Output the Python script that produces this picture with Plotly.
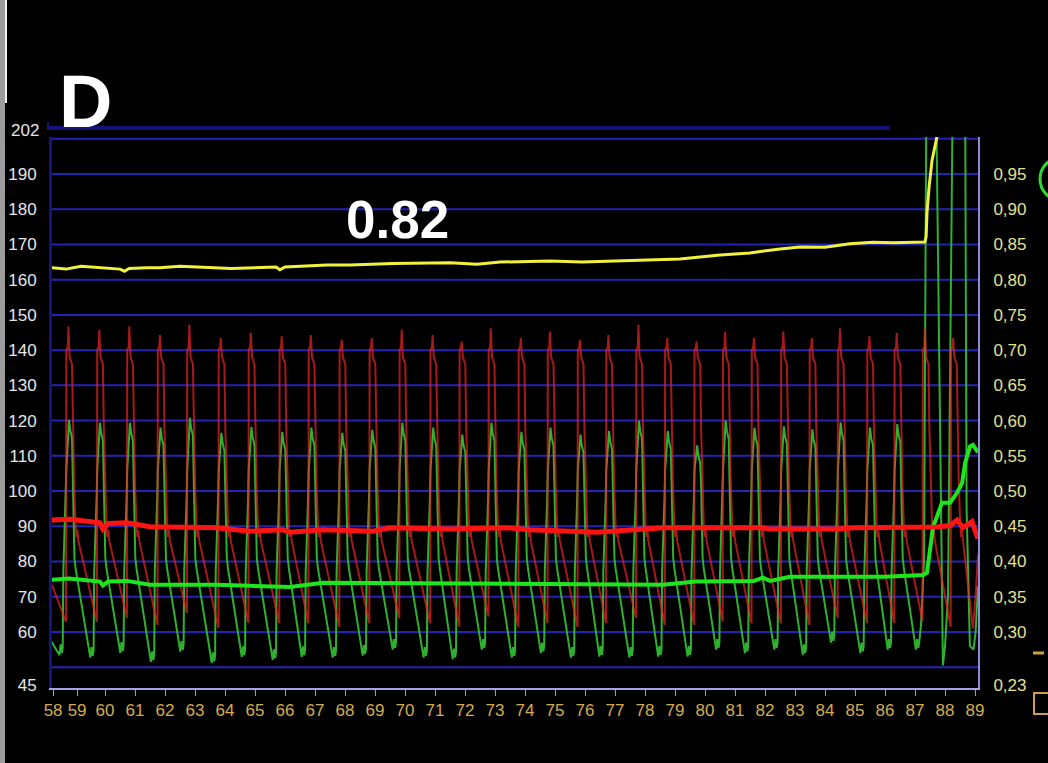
import plotly.graph_objects as go

# ---------------- data ----------------
# x axis (seconds) tick labels
x_tick_pos = [58.27, 59.07, 60, 61, 62, 63, 64, 65, 66, 67, 68, 69, 70, 71, 72, 73, 74,
              75, 76, 77, 78, 79, 80, 81, 82, 83, 84, 85, 86, 87, 88, 89]
x_tick_text = ["58", "59", "60", "61", "62", "63", "64", "65", "66", "67", "68", "69", "70",
               "71", "72", "73", "74", "75", "76", "77", "78", "79", "80", "81", "82", "83",
               "84", "85", "86", "87", "88", "89"]
left_tick_vals = [45, 60, 70, 80, 90, 100, 110, 120, 130, 140, 150, 160, 170, 180, 190]
right_tick_vals = [0.2246, 0.30, 0.35, 0.40, 0.45, 0.50, 0.55, 0.60, 0.65, 0.70, 0.75,
                   0.80, 0.85, 0.90, 0.95]
right_tick_text = ["0,23", "0,30", "0,35", "0,40", "0,45", "0,50", "0,55", "0,60", "0,65",
                   "0,70", "0,75", "0,80", "0,85", "0,90", "0,95"]
grid_levels = [50, 60, 70, 80, 90, 100, 110, 120, 130, 140, 150, 160, 170, 180, 190, 200]

# beat-by-beat values of the thin red (arterial) waveform
beat_times = [58.78, 59.81, 60.81, 61.83, 62.81, 63.86, 64.86, 65.89, 66.86, 67.89, 68.89,
              69.89, 70.92, 71.89, 72.86, 73.86, 74.83, 75.83, 76.78, 77.78, 78.74, 79.72,
              80.67, 81.63, 82.61, 83.56, 84.50, 85.48, 86.39, 87.33, 88.27]
red_peaks = [146.7, 145.8, 146.7, 144.3, 147.2, 143.5, 144.9, 143.9, 144.3, 142.9, 143.4,
             145.8, 144.3, 142.4, 146.2, 143.4, 145.3, 142.9, 144.3, 147.2, 143.4, 142.4,
             145.3, 143.4, 145.3, 143.4, 146.2, 143.9, 144.9, 146.2, 143.4]
red_troughs = [62.9, 62.9, 64.0, 62.0, 65.4, 61.2, 62.6, 62.5, 62.5, 61.5, 62.5, 63.9, 62.5,
               61.5, 64.4, 61.5, 62.5, 61.5, 62.5, 64.0, 62.0, 62.0, 63.0, 62.5, 62.5, 62.0,
               64.0, 62.5, 62.5, 63.0, 61.5]
# typical red beat contour (offset from the systolic peak, level)
red_up_dt = [-0.07, -0.02]
red_up_v = [140, 141]
red_down_dt = [0.04, 0.12, 0.15, 0.19, 0.24, 0.27, 0.30, 0.33]
red_down_v = [138, 136, 118, 102, 90, 87, 89, 86]
red_head_x = [58.23]
red_head_y = [73.4]
red_tail_x = [88.93, 89.02, 89.10]
red_tail_y = [61.0, 70.0, 82.0]

# beat-by-beat values of the thin green waveform
green_peaks = [120.2, 119.4, 119.4, 118.0, 120.8, 116.5, 118.2, 116.8, 118.0, 116.5, 117.4,
               119.4, 118.0, 116.0, 119.4, 116.8, 118.0, 116.0, 117.0, 120.0, 117.0, 113.0,
               120.0, 118.0, 118.4, 117.5, 119.5, 118.0, 119.0]
green_troughs = [53.5, 52.7, 54.1, 51.5, 54.4, 51.2, 52.9, 52.1, 52.9, 52.7, 53.3, 55.0, 52.7,
                 52.3, 55.0, 52.7, 54.0, 52.7, 53.0, 52.7, 53.0, 53.0, 55.0, 54.0, 55.0, 53.5,
                 57.0, 54.0, 55.0]
green_floor_dt = [-0.30, -0.26, -0.22, -0.19]
green_floor_dv = [0, 3, 0.5, 2]
green_rise_dt = [-0.17, -0.09, -0.07]
green_rise_v = [77, 98, 106]
green_top_dt = [0.02, 0.06, 0.12]
green_top_dv = [0, -3, -5]
green_fall_dt = [0.15, 0.20, 0.24]
green_fall_v = [102, 81, 78]
green_head_x = [58.23, 58.30]
green_head_y = [57.2, 56.0]
green_tail_x = [87.03, 87.07, 87.11, 87.14, 87.20, 87.30, 87.38, 87.70, 87.83, 87.93, 88.00,
                88.10, 88.26, 88.67, 88.72, 88.83, 88.95, 89.02, 89.10]
green_tail_y = [55.0, 58.0, 55.5, 57.0, 62.0, 80.0, 215.0, 215.0, 120.0, 50.5, 56.0, 70.0,
                215.0, 215.0, 95.0, 56.0, 55.0, 60.0, 73.0]

# thick red (mean) line
red_mean_x = [58.23, 58.83, 59.83, 59.93, 60.10, 60.73, 61.50, 62.60, 63.73, 64.83, 65.93,
              66.17, 67.27, 68.93, 69.50, 71.50, 73.40, 74.17, 76.40, 78.60, 81.93, 82.17,
              84.40, 84.93, 87.73, 88.17, 88.40, 88.60, 88.90, 89.10]
red_mean_y = [91.8, 92.0, 91.0, 89.2, 90.8, 91.0, 89.9, 89.6, 89.6, 88.6, 89.0, 88.3, 89.0,
              88.6, 89.6, 89.2, 89.6, 89.0, 88.3, 89.6, 89.6, 89.2, 89.2, 89.6, 89.8, 90.2,
              91.8, 89.6, 91.3, 86.5]
# thick green (mean) line
green_mean_x = [58.23, 58.80, 59.83, 59.93, 60.10, 60.73, 61.50, 63.73, 64.83, 66.17, 67.27,
                74.17, 76.40, 78.60, 79.70, 81.63, 81.93, 82.17, 82.83, 86.00, 87.27, 87.40,
                87.50, 87.60, 87.73, 87.90, 88.17, 88.40, 88.57, 88.67, 88.83, 88.93, 89.10]
green_mean_y = [74.8, 75.2, 74.3, 73.2, 74.3, 74.5, 73.4, 73.4, 73.1, 72.8, 74.0, 73.6, 73.4,
                73.4, 74.3, 74.5, 75.4, 74.5, 75.7, 75.7, 76.2, 76.8, 83.3, 89.8, 92.7, 96.7,
                96.7, 99.5, 102.3, 108.0, 112.6, 113.1, 111.0]
# yellow ratio line (right axis)
ratio_x = [58.23, 58.70, 59.20, 59.50, 60.50, 60.65, 60.80, 61.40, 61.83, 62.50, 63.17, 64.20,
           65.70, 65.83, 66.00, 66.50, 67.40, 68.17, 69.60, 71.50, 72.40, 73.17, 74.83, 75.90,
           77.17, 78.30, 79.17, 80.50, 81.50, 82.50, 83.17, 84.00, 84.83, 85.60, 86.27, 87.33,
           87.37, 87.40, 87.47, 87.57, 87.73, 87.85]
ratio_y = [0.817, 0.815, 0.819, 0.818, 0.815, 0.812, 0.816, 0.817, 0.817, 0.819, 0.818, 0.816,
           0.818, 0.814, 0.818, 0.819, 0.821, 0.821, 0.823, 0.824, 0.822, 0.825, 0.8265,
           0.825, 0.8265, 0.828, 0.8295, 0.835, 0.838, 0.8435, 0.8465, 0.846, 0.851, 0.853,
           0.8525, 0.8535, 0.861, 0.895, 0.932, 0.970, 1.0025, 1.06]

# ---------------- build waveform point lists ----------------
red_x, red_y = list(red_head_x), list(red_head_y)
for t, pk, tr in zip(beat_times, red_peaks, red_troughs):
    red_x.append(t - 0.08); red_y.append(tr)
    for dt, v in zip(red_up_dt, red_up_v):
        red_x.append(t + dt); red_y.append(v)
    red_x.append(t); red_y.append(pk)
    for dt, v in zip(red_down_dt, red_down_v):
        red_x.append(t + dt); red_y.append(v)
red_x += red_tail_x
red_y += red_tail_y

green_x, green_y = list(green_head_x), list(green_head_y)
for t, pk, tr in zip(beat_times, green_peaks, green_troughs):
    for dt, dv in zip(green_floor_dt, green_floor_dv):
        green_x.append(t + dt); green_y.append(tr + dv)
    for dt, v in zip(green_rise_dt, green_rise_v):
        green_x.append(t + dt); green_y.append(v)
    for dt, dv in zip(green_top_dt, green_top_dv):
        green_x.append(t + dt); green_y.append(pk + dv)
    for dt, v in zip(green_fall_dt, green_fall_v):
        green_x.append(t + dt); green_y.append(v)
green_x += green_tail_x
green_y += green_tail_y

# ---------------- figure ----------------
TICKFONT = "Liberation Sans, Arial, sans-serif"
L, R, T, B = 52, 70, 137, 75
W, H = 1048, 763
PW, PH = W - L - R, H - T - B


def px(xp):
    return (xp - L) / PW


def py(yp):
    return (H - B - yp) / PH


fig = go.Figure()
fig.add_trace(go.Scatter(x=green_x, y=green_y, mode="lines",
                         line=dict(color="rgba(50,185,50,0.95)", width=2), hoverinfo="skip"))
fig.add_trace(go.Scatter(x=red_x, y=red_y, mode="lines",
                         line=dict(color="rgba(240,35,35,0.7)", width=2), hoverinfo="skip"))
fig.add_trace(go.Scatter(x=green_mean_x, y=green_mean_y, mode="lines",
                         line=dict(color="#1ee61e", width=4), hoverinfo="skip"))
fig.add_trace(go.Scatter(x=red_mean_x, y=red_mean_y, mode="lines",
                         line=dict(color="#ff1414", width=5), hoverinfo="skip"))
fig.add_trace(go.Scatter(x=ratio_x, y=ratio_y, mode="lines", yaxis="y2",
                         line=dict(color="#f2f23c", width=3), hoverinfo="skip"))

shapes = []
for g in grid_levels:
    shapes.append(dict(type="line", xref="paper", yref="y", x0=0, x1=1, y0=g, y1=g,
                       line=dict(color="#2424b4", width=2), layer="below"))
# top border and its corner
shapes.append(dict(type="line", xref="paper", yref="paper", x0=px(47), x1=px(890),
                   y0=py(128), y1=py(128), line=dict(color="#12127a", width=4)))
shapes.append(dict(type="line", xref="paper", yref="paper", x0=px(48), x1=px(48),
                   y0=py(122), y1=py(128), line=dict(color="#12127a", width=2)))
# left border strip of the photo
shapes.append(dict(type="rect", xref="paper", yref="paper", x0=px(0), x1=px(5),
                   y0=py(763), y1=py(0), fillcolor="#9c9c9c", line=dict(width=0)))
shapes.append(dict(type="rect", xref="paper", yref="paper", x0=px(5), x1=px(7),
                   y0=py(103), y1=py(0), fillcolor="#f2f2f2", line=dict(width=0)))
# right-edge fragments
shapes.append(dict(type="circle", xref="paper", yref="paper", x0=px(1040), x1=px(1080),
                   y0=py(200), y1=py(158), line=dict(color="#30d830", width=3)))
shapes.append(dict(type="line", xref="paper", yref="paper", x0=px(1033), x1=px(1044),
                   y0=py(653), y1=py(653), line=dict(color="#d0a040", width=3)))
shapes.append(dict(type="rect", xref="paper", yref="paper", x0=px(1034), x1=px(1052),
                   y0=py(714), y1=py(693), line=dict(color="#d0a040", width=2)))

annotations = [
    dict(text="<b>D</b>", xref="paper", yref="paper", x=px(57), y=py(101), xanchor="left",
         yanchor="middle", showarrow=False,
         font=dict(family="Liberation Sans, Arial, sans-serif", size=74, color="white")),
    dict(text="<b>0.82</b>", xref="paper", yref="paper", x=px(397), y=py(219), xanchor="center",
         yanchor="middle", showarrow=False,
         font=dict(family="Liberation Sans, Arial, sans-serif", size=53, color="white")),
    dict(text="202", xref="paper", yref="paper", x=px(41), y=py(131), xanchor="right",
         yanchor="middle", showarrow=False,
         font=dict(family=TICKFONT, size=17, color="#e6e6e6")),
]

fig.update_layout(
    width=W, height=H,
    margin=dict(l=L, r=R, t=T, b=B, pad=0, autoexpand=False),
    paper_bgcolor="black", plot_bgcolor="black",
    showlegend=False,
    shapes=shapes, annotations=annotations,
    xaxis=dict(range=[58.233, 89.1], tickmode="array", tickvals=x_tick_pos,
               ticktext=x_tick_text, ticks="outside", ticklen=6, tickwidth=1, tickangle=0,
               tickcolor="#c8a048", tickfont=dict(family=TICKFONT, size=17, color="#d4ac50"),
               showgrid=False, zeroline=False, showline=True, linecolor="#a4a4e4",
               linewidth=2, automargin=False),
    yaxis=dict(range=[44.1, 200.5], tickmode="array", tickvals=left_tick_vals,
               ticks="outside", ticklen=9, tickcolor="rgba(0,0,0,0)",
               tickfont=dict(family=TICKFONT, size=17, color="#e6e6e6"),
               showgrid=False, zeroline=False, showline=True, linecolor="#14147a",
               linewidth=3, automargin=False),
    yaxis2=dict(range=[0.2205, 1.0025], overlaying="y", side="right", tickmode="array",
                tickvals=right_tick_vals, ticktext=right_tick_text, ticks="outside",
                ticklen=10, tickcolor="rgba(0,0,0,0)",
                tickfont=dict(family=TICKFONT, size=17, color="#e4e08c"),
                showgrid=False, zeroline=False, showline=True, linecolor="#8c8cd8",
                linewidth=2, automargin=False),
)

fig.write_html("out.html", config={"displayModeBar": False},
               post_script="document.body.style.margin='0px';"
                           "document.body.style.background='black';")
